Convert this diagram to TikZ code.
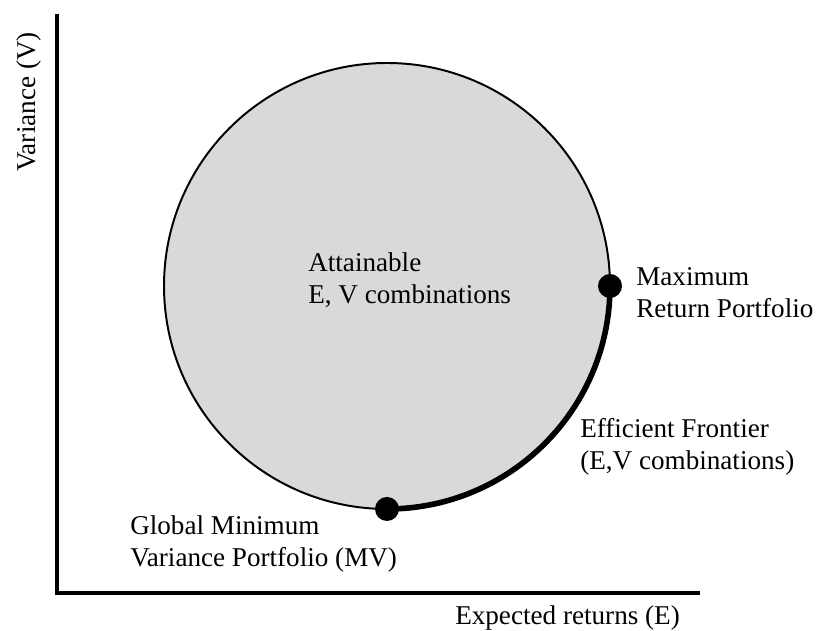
\documentclass[tikz,border=0pt]{standalone}
\usepackage{fontspec}
\setmainfont{Liberation Serif}
\usetikzlibrary{calc}
\begin{document}
\begin{tikzpicture}
\tikzset{
  lbl/.style={font=\fontsize{19.3}{23}\selectfont, align=left, anchor=base west, inner sep=0pt},
  axisline/.style={line width=2.2pt},
  region/.style={fill=black!15, draw=black, line width=1.4pt},
  frontier/.style={line width=4pt},
  dot/.style={circle, fill=black, inner sep=0pt, minimum size=0.6cm},
}
\useasboundingbox (0,0) rectangle (20.4,15.775);
% axes
\coordinate (O) at (1.425,0.95);
\coordinate (vtop) at (1.425,15.425);
\coordinate (hend) at (17.5,0.95);
\draw[axisline] (vtop) -- (O) -- (hend);
\node[font=\fontsize{19.3}{23}\selectfont, rotate=90] (vlab) at (0.725,13.225) {Variance (V)};
\node[lbl] (elab) at (11.375,0.15) {Expected returns (E)};

% attainable set
\coordinate (c) at (9.675,8.625);
\draw[region] (c) circle (5.575);
\coordinate (mv) at ($(c)+(-90:5.575)$);
\coordinate (mrp) at ($(c)+(0:5.575)$);
\draw[frontier] (mv) arc[start angle=-90, end angle=0, radius=5.575];
\node[dot] (mvdot) at (mv) {};
\node[dot] (mrpdot) at (mrp) {};

% labels (base = last line)
\node[lbl] (att) at (7.7,8.175) {Attainable\\E, V combinations};
\node[lbl] (mrplab) at (15.9,7.825) {Maximum\\Return Portfolio};
\node[lbl] (eflab) at (14.5,4.025) {Efficient Frontier\\(E,V combinations)};
\node[lbl] (mvlab) at (3.25,1.6) {Global Minimum\\Variance Portfolio (MV)};
\end{tikzpicture}
\end{document}
